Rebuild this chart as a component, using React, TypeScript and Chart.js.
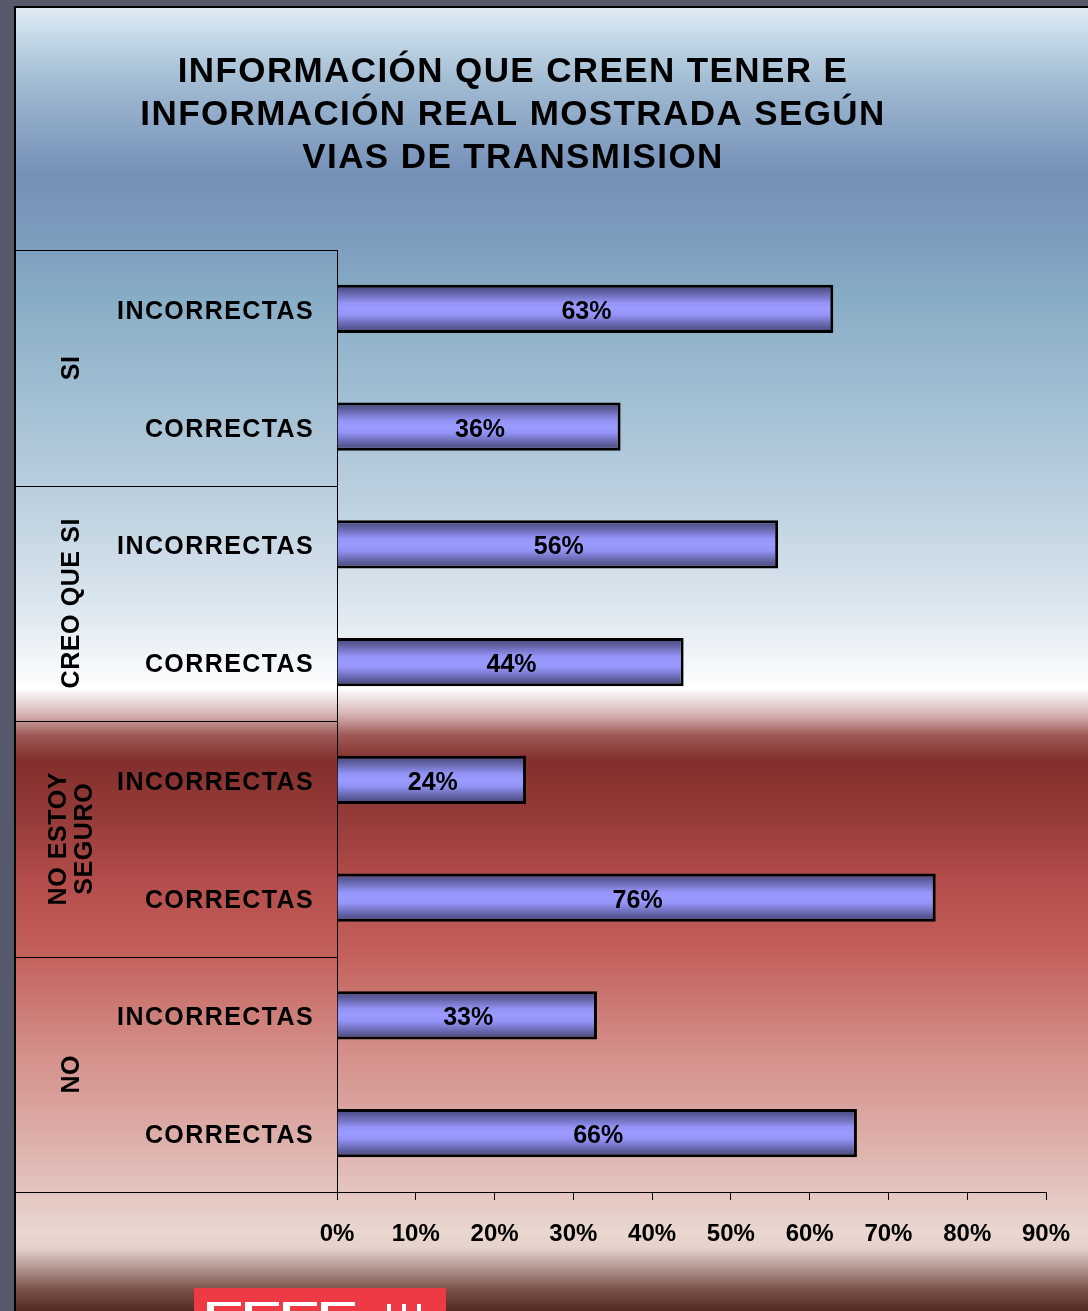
import React, { useEffect, useRef } from 'react';
import { Chart, registerables } from 'chart.js';

Chart.register(...registerables);

const titleLines = [
  'INFORMACIÓN QUE CREEN TENER E',
  'INFORMACIÓN REAL MOSTRADA SEGÚN',
  'VIAS DE TRANSMISION',
];
const groupLabels: string[][] = [['SI'], ['CREO QUE SI'], ['NO ESTOY', 'SEGURO'], ['NO']];
const answerLabels = ['INCORRECTAS', 'CORRECTAS'];
const categories = groupLabels.flatMap((g) => answerLabels.map((a) => g.join(' ') + ' - ' + a));
const values = [63, 36, 56, 44, 24, 76, 33, 66];
const xMin = 0;
const xMax = 90;
const xStep = 10;

const W = 1088;
const H = 1311;
const FONT = '"Liberation Sans", Arial, sans-serif';

const bgStops: [number, string][] = [
  [8, '#e0ecf5'],
  [40, '#c2d6e6'],
  [80, '#a3bdd3'],
  [120, '#8fa9c8'],
  [175, '#7590b8'],
  [230, '#7b9bbd'],
  [300, '#88adc6'],
  [400, '#a2bfd3'],
  [500, '#bcd0df'],
  [600, '#dae5ee'],
  [670, '#f6f9fb'],
  [688, '#ffffff'],
  [700, '#ecdede'],
  [715, '#d4b2b0'],
  [735, '#a05a58'],
  [760, '#832f2d'],
  [820, '#963c3a'],
  [880, '#b34c4a'],
  [950, '#c35f5a'],
  [1050, '#d48e89'],
  [1150, '#dfb3ae'],
  [1232, '#e9d7d0'],
  [1248, '#e4d2cb'],
  [1268, '#b29690'],
  [1290, '#7a5048'],
  [1311, '#522a20'],
];

const decorPlugin = {
  id: 'decor',
  beforeDraw(chart: any) {
    const ctx: CanvasRenderingContext2D = chart.ctx;
    ctx.save();
    ctx.fillStyle = '#565a6b';
    ctx.fillRect(0, 0, W, H);
    const g = ctx.createLinearGradient(0, 0, 0, H);
    bgStops.forEach(([y, c]) => g.addColorStop(y / H, c));
    ctx.fillStyle = g;
    ctx.fillRect(15, 7, W - 15, H - 7);
    ctx.strokeStyle = '#000';
    ctx.lineWidth = 2;
    ctx.beginPath();
    ctx.moveTo(15, H);
    ctx.lineTo(15, 7);
    ctx.lineTo(W, 7);
    ctx.stroke();

    // title
    ctx.fillStyle = '#000';
    ctx.font = `bold 35px ${FONT}`;
    (ctx as any).letterSpacing = '1.4px';
    ctx.textAlign = 'center';
    ctx.textBaseline = 'middle';
    titleLines.forEach((t, i) => ctx.fillText(t, 513, 72 + i * 43));
    (ctx as any).letterSpacing = '0px';

    // logo at bottom
    ctx.fillStyle = '#ee3a44';
    ctx.fillRect(194, 1288, 252, H - 1288);
    ctx.fillStyle = '#ffffff';
    [207, 245, 283, 321].forEach((x) => {
      ctx.fillRect(x, 1302, 34, 9);
    });
    ctx.fillStyle = '#ee3a44';
    [207, 245, 283, 321].forEach((x) => {
      ctx.fillRect(x + 7, 1306, 27, 5);
    });
    ctx.fillStyle = '#ffffff';
    [387, 402, 417].forEach((x) => ctx.fillRect(x, 1304, 4, 7));
    ctx.restore();
  },
  afterDraw(chart: any) {
    const ctx: CanvasRenderingContext2D = chart.ctx;
    const ys = chart.scales.y;
    const area = chart.chartArea;
    const step = Math.abs(ys.getPixelForValue(1) - ys.getPixelForValue(0));
    ctx.save();
    // table lines
    ctx.strokeStyle = '#000';
    ctx.lineWidth = 1;
    for (let gi = 0; gi <= groupLabels.length; gi++) {
      const y = Math.round(ys.getPixelForValue(gi * answerLabels.length) - step / 2) + 0.5;
      ctx.beginPath();
      ctx.moveTo(15, y);
      ctx.lineTo(area.left, y);
      ctx.stroke();
    }
    // category labels
    ctx.fillStyle = '#000';
    ctx.font = `bold 25px ${FONT}`;
    (ctx as any).letterSpacing = '1.4px';
    ctx.textAlign = 'right';
    ctx.textBaseline = 'middle';
    categories.forEach((_, i) => {
      const label = answerLabels[i % answerLabels.length];
      ctx.fillText(label, area.left - 23, ys.getPixelForValue(i) + 3);
    });
    // group labels
    (ctx as any).letterSpacing = '0.6px';
    ctx.textAlign = 'center';
    groupLabels.forEach((lines, gi) => {
      const a = ys.getPixelForValue(gi * 2);
      const b = ys.getPixelForValue(gi * 2 + 1);
      const cy = (a + b) / 2;
      ctx.save();
      ctx.translate(72, cy);
      ctx.rotate(-Math.PI / 2);
      lines.forEach((ln, k) => {
        ctx.fillText(ln, 0, (k - (lines.length - 1) / 2) * 26);
      });
      ctx.restore();
    });
    (ctx as any).letterSpacing = '0px';
    // data labels
    ctx.font = `bold 25px ${FONT}`;
    ctx.textAlign = 'center';
    const meta = chart.getDatasetMeta(0);
    meta.data.forEach((bar: any, i: number) => {
      const p = bar.getProps(['x', 'y', 'base'], true);
      ctx.fillText(values[i] + '%', (p.x + p.base) / 2 + 1, p.y + 3);
    });
    ctx.restore();
  },
};

export default function App() {
  const ref = useRef<HTMLCanvasElement | null>(null);
  useEffect(() => {
    if (!ref.current) return;
    const chart = new Chart(ref.current, {
      type: 'bar',
      data: {
        labels: categories,
        datasets: [
          {
            data: values,
            borderColor: '#000',
            borderWidth: 3,
            barPercentage: 0.41,
            categoryPercentage: 1,
            backgroundColor: (c: any) => {
              const chartObj = c.chart;
              const ys = chartObj.scales && chartObj.scales.y;
              if (!ys || c.dataIndex == null) return '#9999ff';
              const center = ys.getPixelForValue(c.dataIndex);
              const step = Math.abs(ys.getPixelForValue(1) - ys.getPixelForValue(0));
              const half = (step * 0.41) / 2;
              if (!isFinite(center) || !isFinite(half) || half <= 0) return '#9999ff';
              const g = chartObj.ctx.createLinearGradient(0, center - half, 0, center + half);
              g.addColorStop(0, '#45457a');
              g.addColorStop(0.12, '#5a5a98');
              g.addColorStop(0.38, '#9494f8');
              g.addColorStop(0.5, '#9a9aff');
              g.addColorStop(0.62, '#9494f8');
              g.addColorStop(0.88, '#5a5a98');
              g.addColorStop(1, '#45457a');
              return g;
            },
          },
        ],
      },
      options: {
        indexAxis: 'y',
        responsive: false,
        animation: false,
        devicePixelRatio: 1,
        layout: { padding: { left: 337, top: 250, right: 42, bottom: 0 } },
        plugins: {
          legend: { display: false },
          title: { display: false },
          tooltip: { enabled: false },
        },
        scales: {
          x: {
            type: 'linear',
            min: xMin,
            max: xMax,
            position: 'bottom',
            ticks: {
              stepSize: xStep,
              color: '#000',
              padding: 20,
              font: { family: FONT, size: 24, weight: 'bold' },
              callback: (v: any) => v + '%',
            },
            grid: {
              display: true,
              drawOnChartArea: false,
              drawTicks: true,
              tickLength: 8,
              color: '#000',
              lineWidth: 1,
            },
            border: { display: true, color: '#000', width: 1 },
            afterFit: (s: any) => {
              s.height = H - 1192;
              s.paddingLeft = 0;
              s.paddingRight = 0;
            },
          },
          y: {
            type: 'category',
            ticks: { display: false },
            grid: { display: false },
            border: { display: true, color: '#000', width: 1 },
            afterFit: (s: any) => {
              s.width = 0;
              s.paddingTop = 0;
              s.paddingBottom = 0;
            },
          },
        },
      },
      plugins: [decorPlugin],
    } as any);
    return () => chart.destroy();
  }, []);
  return (
    <div style={{ position: 'fixed', left: 0, top: 0, width: W, height: H }}>
      <canvas ref={ref} width={W} height={H} style={{ display: 'block', width: W, height: H }} />
    </div>
  );
}
